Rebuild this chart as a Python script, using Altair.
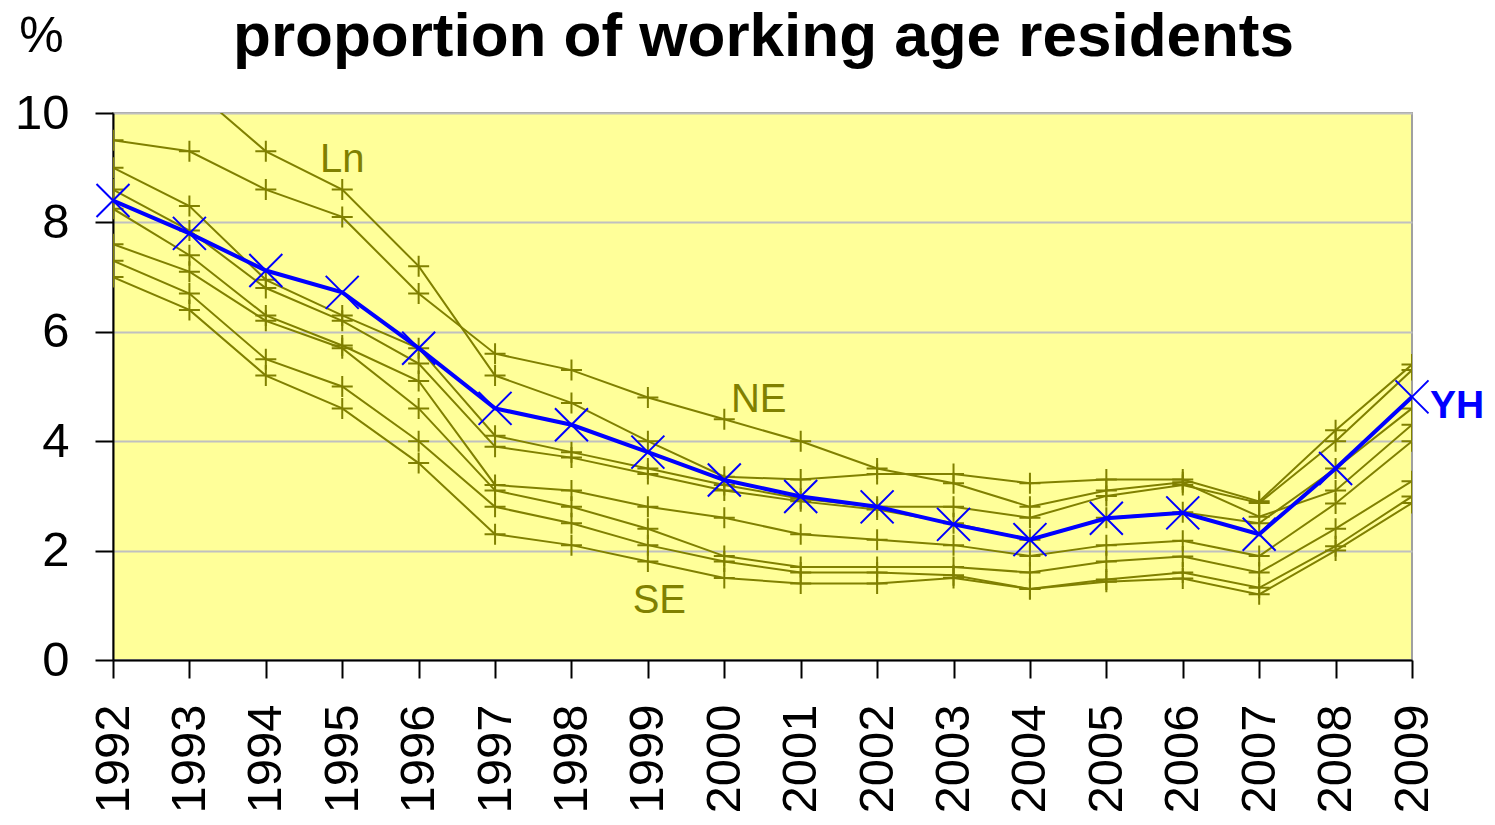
import altair as alt
import pandas as pd

years = list(range(1992, 2010))

# olive regional series (values in % of working age residents)
ln = [11.5, 10.5, 9.3, 8.6, 7.2, 5.2, 4.7, 4.0, 3.35, 3.3, 3.4, 3.4, 3.23, 3.3, 3.3, 2.9, 4.2, 5.4]
ne = [9.5, 9.3, 8.6, 8.1, 6.7, 5.6, 5.3, 4.8, 4.4, 4.0, 3.5, 3.23, 2.8, 3.1, 3.25, 2.62, 3.1, 4.3]
m1 = [9.0, 8.3, 6.95, 6.3, 5.7, 4.1, 3.8, 3.5, 3.2, 2.95, 2.8, 2.8, 2.6, 3.0, 3.2, 2.87, 4.0, 5.3]
m2 = [8.6, 7.85, 6.8, 6.2, 5.42, 3.9, 3.7, 3.4, 3.1, 2.9, 2.75, 2.5, 2.2, 2.6, 2.7, 2.5, 3.5, 4.6]
l1 = [8.25, 7.4, 6.3, 5.75, 5.1, 3.2, 3.1, 2.8, 2.6, 2.3, 2.2, 2.1, 1.9, 2.1, 2.18, 1.9, 2.86, 4.0]
l2 = [7.6, 7.1, 6.2, 5.7, 4.6, 3.1, 2.8, 2.4, 1.9, 1.7, 1.7, 1.7, 1.6, 1.8, 1.89, 1.6, 2.4, 3.27]
l3 = [7.3, 6.7, 5.5, 5.0, 4.0, 2.8, 2.5, 2.1, 1.8, 1.6, 1.6, 1.55, 1.3, 1.47, 1.6, 1.32, 2.08, 2.99]
se = [7.0, 6.4, 5.2, 4.6, 3.6, 2.3, 2.1, 1.8, 1.5, 1.4, 1.4, 1.5, 1.3, 1.43, 1.49, 1.2, 2.0, 2.87]
# highlighted region
yh = [8.4, 7.8, 7.12, 6.72, 5.7, 4.6, 4.3, 3.8, 3.29, 2.99, 2.8, 2.48, 2.2, 2.59, 2.69, 2.3, 3.5, 4.81]

olive_series = {"Ln": ln, "NE": ne, "M1": m1, "M2": m2, "L1": l1, "L2": l2, "L3": l3, "SE": se}

# labels drawn on the chart
label_text = ["Ln", "NE", "SE"]
label_year = [1995.0, 2000.45, 1999.15]
label_value = [8.92, 4.53, 0.86]
yh_label = ["YH"]
yh_label_year = [2009]
yh_label_value = [4.42]

title_text = ["proportion of working age residents"]

y_ticks = [0, 2, 4, 6, 8, 10]

OLIVE = "#808000"
BLUE = "#0000FF"
FONT = "Liberation Sans"
PLOT_W = 1299
PLOT_H = 547

rows = []
for name, vals in olive_series.items():
    for yr, v in zip(years, vals):
        rows.append({"series": name, "year": yr, "value": v})
olive_df = pd.DataFrame(rows)
yh_df = pd.DataFrame({"series": "YH", "year": years, "value": yh})
lab_df = pd.DataFrame({"text": label_text, "year": label_year, "value": label_value})
yh_lab_df = pd.DataFrame({"text": yh_label, "year": yh_label_year, "value": yh_label_value})
title_df = pd.DataFrame({"text": title_text})

x_enc = alt.X(
    "year:Q",
    scale=alt.Scale(domain=[1992, 2009], nice=False, zero=False),
    axis=alt.Axis(
        values=years, format="d", labelAngle=270, labelFontSize=49, labelFont=FONT,
        labelColor="black", tickSize=18, tickColor="black", tickWidth=2,
        domainColor="black", domainWidth=2, labelPadding=26, grid=False, title=None,
        labelOverlap=False, labelFlush=False,
    ),
)
y_enc = alt.Y(
    "value:Q",
    scale=alt.Scale(domain=[0, 10], nice=False),
    axis=alt.Axis(
        values=y_ticks, labelFontSize=49, labelFont=FONT, labelColor="black",
        tickSize=18, tickColor="black", tickWidth=2, domainColor="black", domainWidth=2,
        labelPadding=26, grid=True, gridColor="#C0C0C0", gridWidth=2,
        title="%", titleAngle=0, titleFont=FONT, titleFontSize=50, titleFontWeight="normal",
        titleX=-72, titleY=-62, titleAlign="center", titleBaseline="alphabetic",
        titleColor="black", labelFlush=False,
    ),
)

PLUS = "M-1,0L1,0M0,-1L0,1"
XSHAPE = "M-1,-1L1,1M-1,1L1,-1"

olive_lines = alt.Chart(olive_df).mark_line(color=OLIVE, strokeWidth=2, clip=True).encode(
    x=x_enc, y=y_enc, detail="series:N"
)
olive_pts = alt.Chart(olive_df).mark_point(
    shape=PLUS, size=441, color=OLIVE, strokeWidth=2, filled=False, opacity=1, clip=True
).encode(x="year:Q", y="value:Q")

yh_line = alt.Chart(yh_df).mark_line(color=BLUE, strokeWidth=4, clip=True).encode(
    x="year:Q", y="value:Q"
)
yh_pts = alt.Chart(yh_df).mark_point(
    shape=XSHAPE, size=1089, color=BLUE, strokeWidth=2, filled=False, opacity=1, clip=False
).encode(x="year:Q", y="value:Q")

labels = alt.Chart(lab_df).mark_text(
    color=OLIVE, font=FONT, fontSize=40, align="center", baseline="alphabetic"
).encode(x="year:Q", y="value:Q", text="text:N")

yh_text = alt.Chart(yh_lab_df).mark_text(
    color=BLUE, font=FONT, fontSize=39, fontWeight="bold", align="left",
    baseline="alphabetic", dx=18
).encode(x="year:Q", y="value:Q", text="text:N")

title_mark = alt.Chart(title_df).mark_text(
    color="black", font=FONT, fontSize=62, fontWeight="bold", align="center",
    baseline="alphabetic"
).encode(x=alt.value(PLOT_W / 2 + 1), y=alt.value(-57), text="text:N")

chart = alt.layer(olive_lines, olive_pts, yh_line, yh_pts, labels, yh_text, title_mark).properties(
    width=PLOT_W,
    height=PLOT_H,
    autosize=alt.AutoSizeParams(type="none"),
    padding={"left": 105, "top": 105, "right": 75, "bottom": 155},
    background="white",
).configure_view(
    fill="#FFFF99", stroke="#A0A0A0", strokeWidth=2
)

chart.save("out.html", embed_options={"renderer": "svg", "actions": False})
